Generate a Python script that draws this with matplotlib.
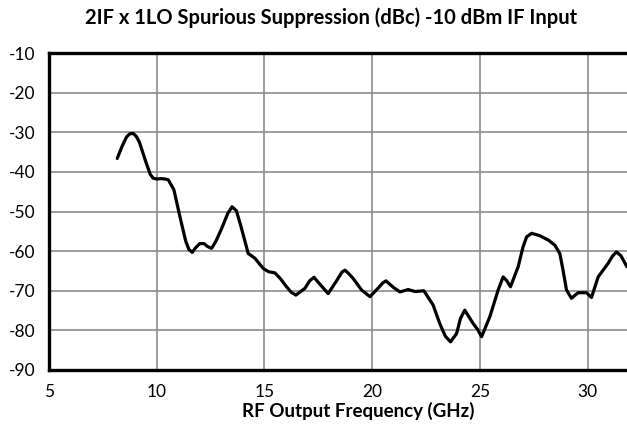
import matplotlib
matplotlib.use("Agg")
import matplotlib.pyplot as plt

# values
freq_ghz = [8.17, 8.4, 8.6, 8.75, 8.91, 9.05, 9.2, 9.5, 9.7, 9.84, 10.0, 10.2, 10.4, 10.54, 10.8,
            11.08, 11.35, 11.5, 11.65, 11.8, 12.0, 12.2, 12.35, 12.55, 12.75, 13.0, 13.3,
            13.5, 13.7, 13.9, 14.25, 14.56, 14.95, 15.2, 15.49, 15.75, 16.03, 16.25, 16.46,
            16.88, 17.1, 17.3, 17.6, 17.96, 18.35, 18.6, 18.74, 18.9, 19.12, 19.51, 19.9,
            20.25, 20.5, 20.64, 21.0, 21.29, 21.67, 22.0, 22.4, 22.83, 23.14, 23.4, 23.64,
            23.92, 24.1, 24.3, 24.69, 24.9, 25.08, 25.46, 25.85, 26.08, 26.25, 26.42, 26.78,
            27.0, 27.17, 27.4, 27.78, 28.2, 28.48, 28.71, 28.85, 29.02, 29.25, 29.56, 29.95,
            30.18, 30.49, 30.95, 31.15, 31.34, 31.55, 31.82]
spur_dbc = [-36.6, -33.5, -31.2, -30.4, -30.3, -31.0, -32.5, -37.5, -40.6, -41.6, -41.8, -41.7,
            -41.8, -42.0, -44.5, -51.3, -57.5, -59.6, -60.3, -59.2, -58.1, -58.1, -58.8, -59.3,
            -57.5, -54.5, -50.5, -48.8, -49.8, -53.5, -60.6, -61.8, -64.4, -65.2, -65.5, -67.0,
            -69.0, -70.4, -71.1, -69.4, -67.5, -66.6, -68.5, -70.7, -67.5, -65.3, -64.8, -65.6,
            -66.9, -69.8, -71.5, -69.5, -68.0, -67.5, -69.2, -70.3, -69.7, -70.2, -70.0, -73.6,
            -78.3, -81.5, -82.9, -80.8, -77.0, -74.9, -78.3, -79.8, -81.6, -76.6, -69.8, -66.5,
            -67.5, -69.0, -63.9, -59.0, -56.4, -55.5, -56.1, -57.3, -58.5, -60.6, -64.5, -69.8,
            -71.9, -70.5, -70.5, -71.7, -66.5, -63.1, -61.3, -60.2, -61.2, -63.9]

x_ticks = [5, 10, 15, 20, 25, 30]
y_ticks = [-90, -80, -70, -60, -50, -40, -30, -20, -10]

plt.rcParams['font.family'] = ['Lato', 'DejaVu Sans']
plt.rcParams['axes.unicode_minus'] = False

fig = plt.figure(figsize=(6.27, 4.26), dpi=100)
# the plot area runs past the right edge of the image, like the reference
ax = fig.add_axes([0.078, 0.1315, 1.031, 0.744])

ax.plot(freq_ghz, spur_dbc, color='black', linewidth=2.3, solid_joinstyle='round',
        solid_capstyle='round', zorder=3)

ax.set_xlim(5, 35)
ax.set_ylim(-90, -10)
ax.set_xticks(x_ticks)
ax.set_yticks(y_ticks)
ax.grid(True, color='#8c8c8c', linewidth=1.2)
ax.set_axisbelow(True)
ax.tick_params(length=0, labelsize=12.5, pad=10)
for s in ax.spines.values():
    s.set_linewidth(2.4)
    s.set_color('black')

fig.text(0.528, 0.958, '2IF x 1LO Spurious Suppression (dBc) -10 dBm IF Input',
         ha='center', va='center', fontsize=14.5, fontweight='bold')
fig.text(0.571, 0.035, 'RF Output Frequency (GHz)', ha='center', va='center',
         fontsize=13.5, fontweight='bold')

fig.savefig('out.png', dpi=100)
